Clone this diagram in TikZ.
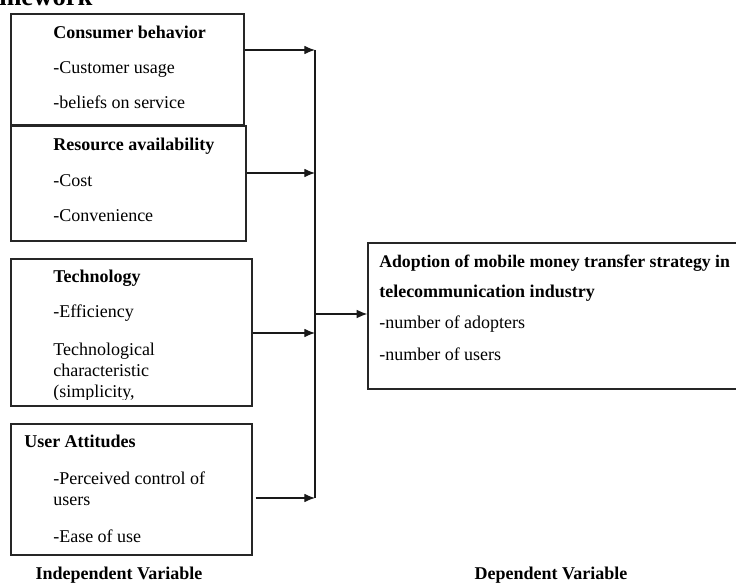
\documentclass[tikz,border=0pt]{standalone}
\usepackage{fontspec}
\setmainfont{Liberation Serif}
\usetikzlibrary{arrows.meta}
\tikzset{
  box/.style={draw=black!85, line width=1pt, rectangle, inner sep=0pt},
  txt/.style={anchor=base west, inner sep=0pt, font=\fontsize{13.5pt}{15.5pt}\selectfont},
  btxt/.style={txt, font=\fontsize{13.5pt}{15.5pt}\selectfont\bfseries},
  arr/.style={-{Latex[length=8pt,width=6.5pt]}, line width=0.9pt, draw=black!90},
  bus/.style={line width=0.9pt, draw=black!90},
}
\begin{document}
\begin{tikzpicture}[x=0.75pt,y=-0.75pt]
\clip (0,0) rectangle (736,584);
\fill[white] (0,0) rectangle (736,584);
% heading fragment
\node[anchor=base west, inner sep=0pt, font=\fontsize{20pt}{22pt}\selectfont\bfseries] (head) at (-1,6) {mework};
% boxes
\node[box, minimum width=174.75pt, minimum height=83.25pt] (b1) at (127.5,69.5) {};
\node[box, minimum width=176.25pt, minimum height=86.25pt] (b2) at (128.5,183.5) {};
\node[box, minimum width=180.75pt, minimum height=110.25pt] (b3) at (131.5,332.5) {};
\node[box, minimum width=180.75pt, minimum height=98.25pt] (b4) at (131.5,489.5) {};
\node[box, minimum width=286.5pt, minimum height=109.5pt] (dep) at (559,316) {};
% box 1 text
\node[btxt] (t11) at (53,39) {Consumer behavior};
\node[txt] (t12) at (53,74) {-Customer usage};
\node[txt] (t13) at (53,109) {-beliefs on service};
% box 2 text
\node[btxt] (t21) at (53,151) {Resource availability};
\node[txt] (t22) at (53,187) {-Cost};
\node[txt] (t23) at (53,222) {-Convenience};
% box 3 text
\begin{scope}
\clip (11,259) rectangle (252,400);
\node[btxt] (t31) at (53,283) {Technology};
\node[txt] (t32) at (53,318) {-Efficiency};
\node[txt] (t33) at (53,356) {Technological};
\node[txt] (t34) at (53,377) {characteristic};
\node[txt] (t35) at (53,398) {(simplicity,};
\end{scope}
% box 4 text
\node[btxt] (t41) at (24,448) {User Attitudes};
\node[txt] (t42) at (53,485) {-Perceived control of};
\node[txt] (t43) at (53,506) {users};
\node[txt] (t44) at (53,543) {-Ease of use};
% dependent text
\node[btxt, font=\fontsize{13.3pt}{15.5pt}\selectfont\bfseries] (d1) at (379,268) {Adoption of mobile money transfer strategy in};
\node[btxt] (d2) at (379,298) {telecommunication industry};
\node[txt] (d3) at (379,329) {-number of adopters};
\node[txt] (d4) at (379,361) {-number of users};
% bottom labels
\node[btxt, anchor=base] (iv) at (119,580) {Independent Variable};
\node[btxt, anchor=base] (dv) at (551,580) {Dependent Variable};
% connectors
\coordinate (j1) at (315,50);
\coordinate (j2) at (315,173);
\coordinate (j3) at (315,333);
\coordinate (j4) at (315,498);
\coordinate (jd) at (315,314);
\draw[bus] (j1) -- (j4);
\draw[arr] (b1.east |- j1) -- (j1);
\draw[arr] (b2.east |- j2) -- (j2);
\draw[arr] (b3.east |- j3) -- (j3);
\draw[arr] ([xshift=2.25pt]b4.east |- j4) -- (j4);
\draw[arr] (jd) -- (dep.west |- jd);
\end{tikzpicture}
\end{document}
